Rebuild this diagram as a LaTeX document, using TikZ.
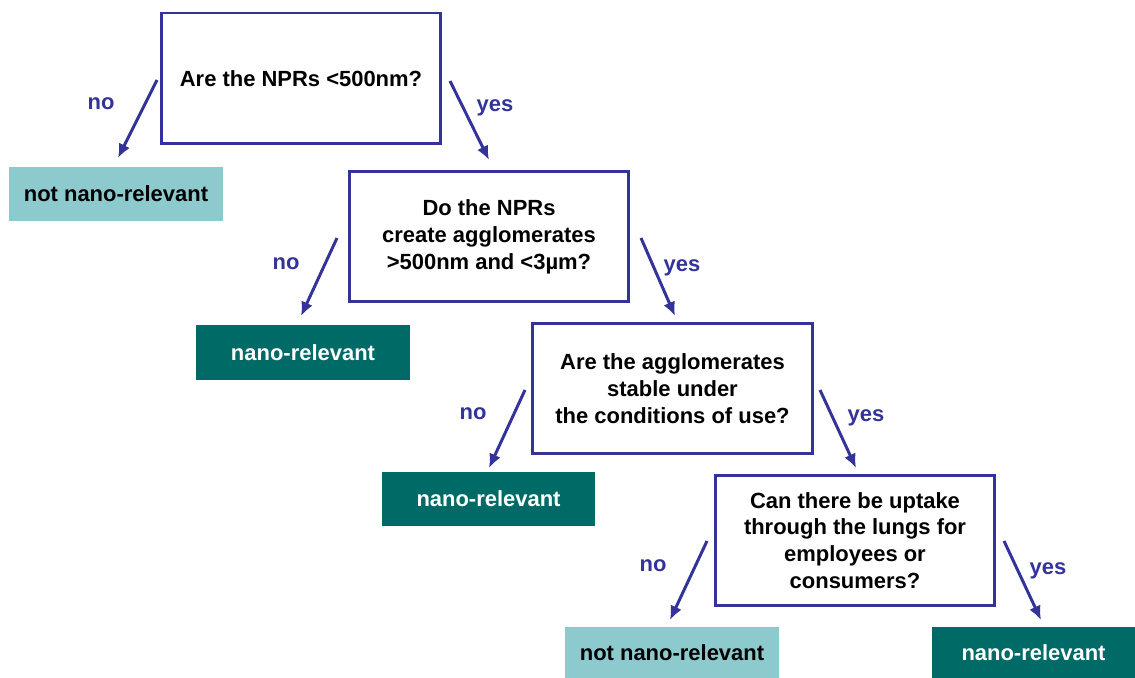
\documentclass[tikz,border=0pt]{standalone}
\usepackage{fontspec}
\setmainfont{Liberation Sans}
\usetikzlibrary{arrows.meta}
\definecolor{qblue}{HTML}{333399}
\definecolor{lightteal}{HTML}{8CCACE}
\definecolor{darkteal}{HTML}{006B66}

\tikzset{
  qfont/.style={font=\bfseries\fontsize{12.5}{15.3}\selectfont},
  question/.style={qfont, draw=qblue, line width=1.7pt, align=center,
    minimum width=5.6cm, minimum height=2.62cm},
  notnano/.style={qfont, fill=lightteal, minimum width=4.28cm, minimum height=1.1cm},
  nano/.style={qfont, fill=darkteal, text=white, minimum width=4.28cm, minimum height=1.1cm},
  answer/.style={qfont, text=qblue},
  branch/.style={draw=qblue, line width=1.7pt, -{Latex[length=8pt,width=7pt]}}
}

\begin{document}
\begin{tikzpicture}[x=0.02cm, y=-0.02cm]
  \useasboundingbox (0,0) rectangle (1135,678);

    % questions
    \node[question] (q1) at (301, 78.5) {Are the NPRs <500nm?};
    \node[question] (q2) at (489, 236.5) {Do the NPRs\\create agglomerates\\>500nm and <3µm?};
    \node[question] (q3) at (672.5, 388.5) {Are the agglomerates\\stable under\\the conditions of use?};
    \node[question] (q4) at (855, 540.5) {Can there be uptake\\through the lungs for\\employees or\\consumers?};

    % outcomes
    \node[notnano] (r1) at (116, 194) {not nano-relevant};
    \node[nano] (r2) at (303, 352.5) {nano-relevant};
    \node[nano] (r3) at (488.5, 499) {nano-relevant};
    \node[notnano, minimum height=1.02cm] (r4) at (672, 652.5) {not nano-relevant};
    \node[nano, minimum width=4.06cm, minimum height=1.02cm] (r5) at (1033.5, 652.5) {nano-relevant};

    % arrow ends
    \coordinate (a1) at (157, 80);   \coordinate (b1) at (118, 158);
    \coordinate (a2) at (450, 81);   \coordinate (b2) at (489, 160);
    \coordinate (a3) at (337, 238);  \coordinate (b3) at (301, 316);
    \coordinate (a4) at (641, 238);  \coordinate (b4) at (675, 316);
    \coordinate (a5) at (525, 390);  \coordinate (b5) at (489, 468);
    \coordinate (a6) at (820, 390);  \coordinate (b6) at (856, 468);
    \coordinate (a7) at (707, 541);  \coordinate (b7) at (670, 620);
    \coordinate (a8) at (1004, 541); \coordinate (b8) at (1041, 620);

    \draw[branch] (a1) to (b1);
    \draw[branch] (a2) to (b2);
    \draw[branch] (a3) to (b3);
    \draw[branch] (a4) to (b4);
    \draw[branch] (a5) to (b5);
    \draw[branch] (a6) to (b6);
    \draw[branch] (a7) to (b7);
    \draw[branch] (a8) to (b8);

    % answers
    \node[answer] (n1) at (101, 104) {no};
    \node[answer] (y1) at (495, 108) {yes};
    \node[answer] (n2) at (286, 264) {no};
    \node[answer] (y2) at (682, 268) {yes};
    \node[answer] (n3) at (473, 414) {no};
    \node[answer] (y3) at (866, 418) {yes};
    \node[answer] (n4) at (653, 566) {no};
    \node[answer] (y4) at (1048, 571) {yes};

\end{tikzpicture}
\end{document}
